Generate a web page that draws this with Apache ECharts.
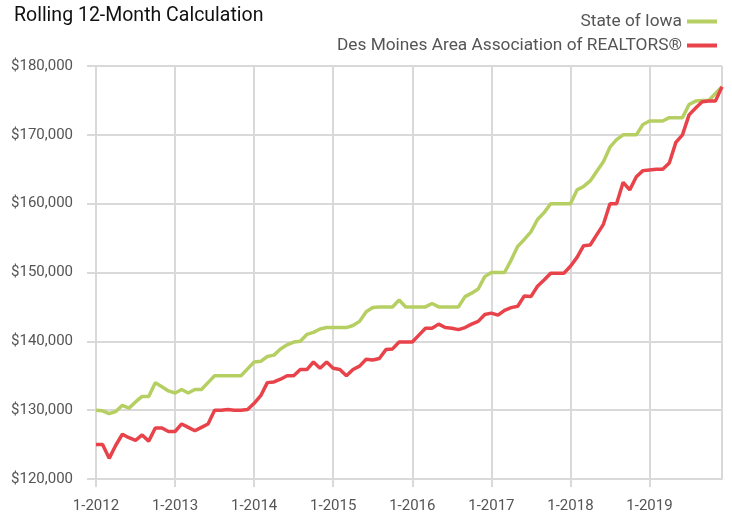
<!DOCTYPE html>
<html>
<head>
<meta charset="utf-8">
<script src="https://cdn.jsdelivr.net/npm/echarts@6/dist/echarts.min.js"></script>
<style>
  html, body { margin: 0; padding: 0; background: #fff; }
  #chart { width: 732px; height: 515px; }
</style>
</head>
<body>
<div id="chart"></div>
<script>
// monthly categories 1-2012 .. 12-2019
const years = [2012, 2013, 2014, 2015, 2016, 2017, 2018, 2019];
const months = [1, 2, 3, 4, 5, 6, 7, 8, 9, 10, 11, 12];
const categories = [];
years.forEach(y => months.forEach(m => categories.push(m + '-' + y)));

const yTicks = [120000, 130000, 140000, 150000, 160000, 170000, 180000];

const iowa = [
  130000, 129900, 129500, 129800, 130700, 130300, 131200, 132000, 132000, 134000, 133400, 132800,
  132500, 133000, 132500, 133000, 133000, 134000, 135000, 135000, 135000, 135000, 135000, 136000,
  137000, 137100, 137800, 138000, 138900, 139500, 139900, 140000, 141000, 141300, 141800, 142000,
  142000, 142000, 142000, 142300, 142900, 144300, 144900, 145000, 145000, 145000, 146000, 145000,
  145000, 145000, 145000, 145500, 145000, 145000, 145000, 145000, 146500, 147000, 147600, 149400,
  150000, 150000, 150000, 151800, 153800, 154800, 155900, 157700, 158700, 160000, 160000, 160000,
  160000, 162000, 162500, 163300, 164700, 166100, 168200, 169300, 170000, 170000, 170000, 171500,
  172000, 172000, 172000, 172500, 172500, 172500, 174400, 174900, 175000, 175000, 176000, 177000
];

const desMoines = [
  125000, 125000, 123000, 124900, 126500, 126000, 125600, 126400, 125500, 127400, 127400, 126900,
  126900, 128000, 127500, 127000, 127500, 128000, 130000, 130000, 130100, 130000, 130000, 130100,
  131000, 132100, 134000, 134100, 134500, 135000, 135000, 135900, 135900, 137000, 136100, 137000,
  136100, 135900, 135000, 135900, 136400, 137400, 137300, 137500, 138800, 138900, 139900, 139900,
  139900, 140900, 141900, 141900, 142500, 142000, 141900, 141700, 142000, 142500, 142900, 143900,
  144100, 143800, 144500, 144900, 145100, 146600, 146500, 148000, 148900, 149900, 149900, 149900,
  150900, 152200, 153900, 154000, 155500, 157000, 160000, 160000, 163100, 162000, 163900, 164800,
  164900, 165000, 165000, 165900, 168900, 170000, 172900, 173900, 174800, 174900, 174900, 177000
];

const font = 'Roboto, "Liberation Sans", sans-serif';
const gridColor = '#d9d9d9';

const chart = echarts.init(document.getElementById('chart'));

chart.setOption({
  animation: false,
  title: {
    text: 'Rolling 12-Month Calculation',
    left: 9,
    top: 1,
    textStyle: { fontFamily: font, fontSize: 19.5, fontWeight: 'normal', color: '#111' }
  },
  legend: {
    orient: 'vertical',
    right: 10,
    top: 8,
    align: 'right',
    itemWidth: 30,
    itemHeight: 4,
    itemGap: 7,
    icon: 'rect',
    textStyle: { fontFamily: font, fontSize: 17.3, color: '#555' },
    data: ['State of Iowa', 'Des Moines Area Association of REALTORS®']
  },
  grid: { left: 96, right: 10, top: 66, bottom: 36 },
  xAxis: {
    type: 'category',
    boundaryGap: false,
    data: categories,
    axisLine: { lineStyle: { color: gridColor, width: 2 } },
    axisTick: {
      interval: (i) => i % 12 === 0,
      length: 8,
      lineStyle: { color: gridColor, width: 2 }
    },
    axisLabel: {
      interval: (i) => i % 12 === 0,
      margin: 20,
      fontFamily: font,
      fontSize: 15,
      color: '#555'
    },
    splitLine: {
      show: true,
      interval: (i) => i % 12 === 0 || i === categories.length - 1,
      lineStyle: { color: gridColor, width: 2 }
    }
  },
  yAxis: {
    type: 'value',
    min: yTicks[0],
    max: yTicks[yTicks.length - 1],
    interval: 10000,
    axisLine: { show: false },
    axisTick: { show: true, length: 9, lineStyle: { color: gridColor, width: 2 } },
    axisLabel: {
      margin: 23,
      fontFamily: font,
      fontSize: 15,
      color: '#555',
      formatter: (v) => '$' + v.toLocaleString('en-US')
    },
    splitLine: { lineStyle: { color: gridColor, width: 2 } }
  },
  series: [
    {
      name: 'State of Iowa',
      type: 'line',
      data: iowa,
      symbol: 'none',
      color: '#b6cf63',
      lineStyle: { width: 3.5, color: '#b6cf63' }
    },
    {
      name: 'Des Moines Area Association of REALTORS®',
      type: 'line',
      data: desMoines,
      symbol: 'none',
      color: '#e8434b',
      lineStyle: { width: 3.5, color: '#e8434b' }
    }
  ]
});
</script>
</body>
</html>
